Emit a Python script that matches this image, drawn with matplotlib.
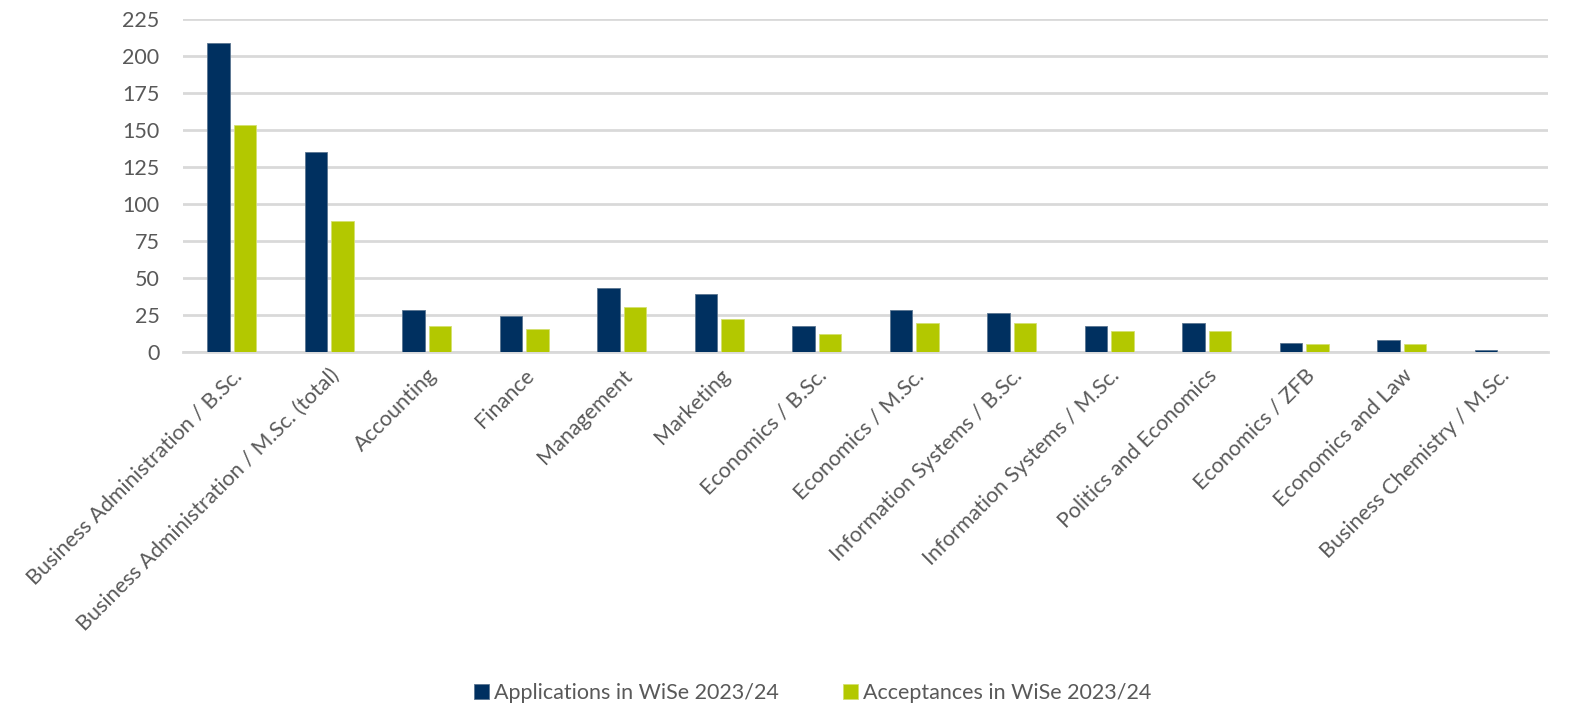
import numpy as np
import matplotlib.pyplot as plt

programs = [
    "Business Administration / B.Sc.",
    "Business Administration / M.Sc. (total)",
    "Accounting",
    "Finance",
    "Management",
    "Marketing",
    "Economics / B.Sc.",
    "Economics / M.Sc.",
    "Information Systems / B.Sc.",
    "Information Systems / M.Sc.",
    "Politics and Economics",
    "Economics / ZFB",
    "Economics and Law",
    "Business Chemistry / M.Sc.",
]
applications = [209, 135, 28, 24, 43, 39, 17, 28, 26, 17, 19, 6, 8, 1]
acceptances = [153, 88, 17, 15, 30, 22, 12, 19, 19, 14, 14, 5, 5, 0]
yticks = [0, 25, 50, 75, 100, 125, 150, 175, 200, 225]

plt.rcParams['font.family'] = ['Lato', 'DejaVu Sans']

def plot_chart():
    fig = plt.figure(figsize=(15.78, 7.03), dpi=100)
    ax = fig.add_axes([0.116, 0.5, 0.865, 0.473])

    x = np.arange(len(programs))
    w = 0.23
    ax.bar(x - 0.135, applications, w, color="#003060", edgecolor="#5a7590",
           linewidth=0.6, label="Applications in WiSe 2023/24", zorder=3)
    ax.bar(x + 0.135, acceptances, w, color="#b3c800", edgecolor="#d4e070",
           linewidth=0.6, label="Acceptances in WiSe 2023/24", zorder=3)

    ax.set_xlim(-0.5, len(programs) - 0.5)
    ax.set_ylim(0, 225)
    ax.set_yticks(yticks)
    ax.yaxis.grid(True, color="#d9d9d9", linewidth=2, zorder=0)
    for s in ["top", "right", "left"]:
        ax.spines[s].set_visible(False)
    ax.spines["bottom"].set_color("#d9d9d9")
    ax.spines["bottom"].set_linewidth(2)
    ax.tick_params(length=0, labelsize=15.5, labelcolor="#595959")
    ax.tick_params(axis="y", pad=17)
    ax.set_xticks(x)
    ax.set_xticklabels(programs, rotation=45, ha="right", rotation_mode="anchor")
    ax.tick_params(axis="x", pad=10)

    fig.legend(loc="lower center", bbox_to_anchor=(0.515, -0.027), ncol=2,
               frameon=False, fontsize=15.5, labelcolor="#595959",
               handlelength=0.7, handleheight=0.7, handletextpad=0.2,
               columnspacing=3.0)
    fig.savefig("out.png", dpi=100)

if __name__ == "__main__":
    plot_chart()
